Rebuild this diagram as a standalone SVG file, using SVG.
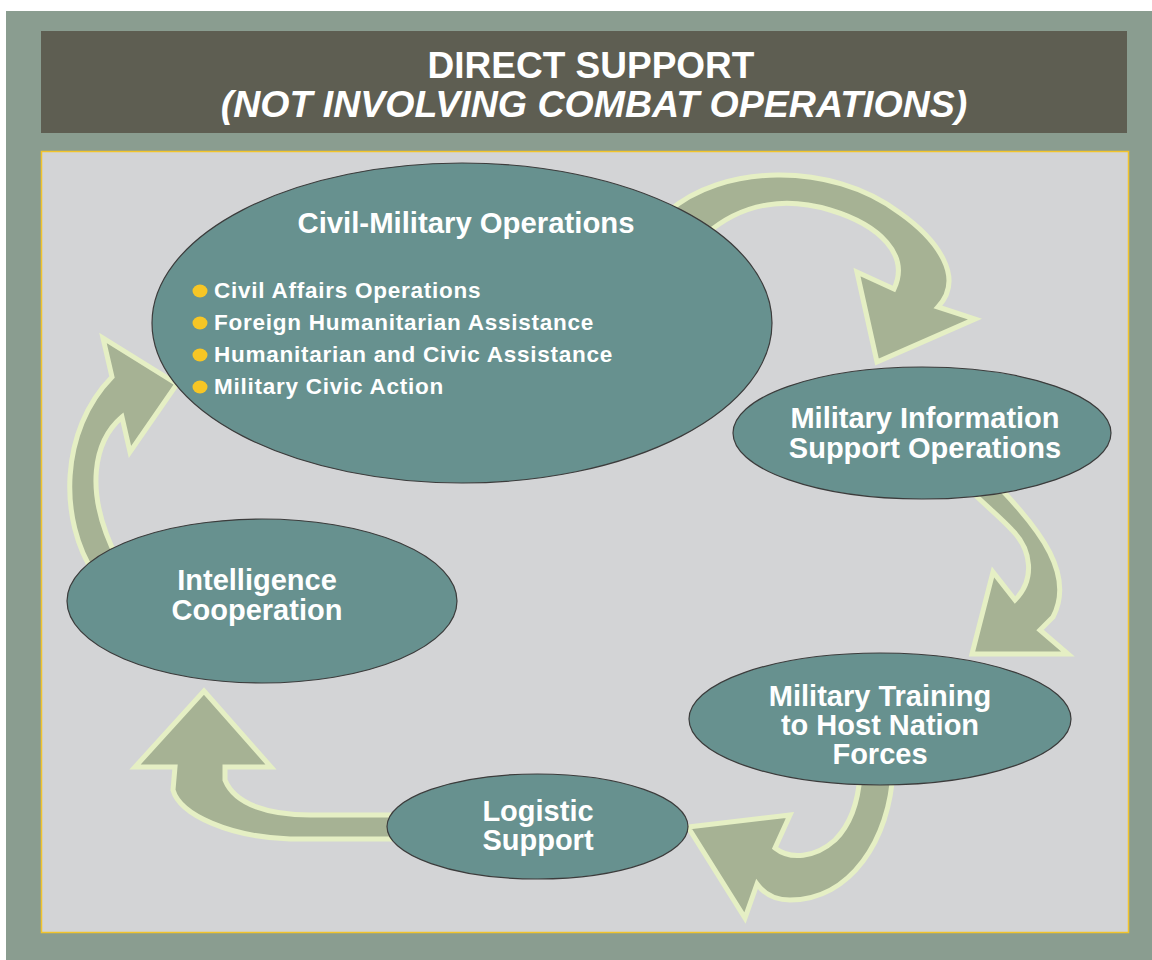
<svg xmlns="http://www.w3.org/2000/svg" width="1152" height="960" viewBox="0 0 1152 960">
<style>
.t{font-family:"Liberation Sans",Arial,sans-serif;font-weight:bold;fill:#ffffff;text-anchor:middle}
.n{font-size:29px}
.b{font-family:"Liberation Sans",Arial,sans-serif;font-weight:bold;fill:#ffffff;font-size:22.5px;letter-spacing:0.75px}
.node{fill:#67918f;stroke:#3c3c3c;stroke-width:1.2}
.arr{fill:#a6b294;stroke:#e5efc4;stroke-width:5;stroke-linejoin:miter}
.dot{fill:#f7c625}
</style>
<rect x="0" y="0" width="1152" height="960" fill="#ffffff"/>
<rect x="6" y="11" width="1146" height="949" fill="#8a9d90"/>
<rect x="41" y="31" width="1086" height="102" fill="#5e5e52"/>
<rect x="41.5" y="151.5" width="1087" height="781" fill="#d3d4d6" stroke="#f2c42b" stroke-width="1.5"/>
<g id="title">
<text class="t" x="591" y="78" font-size="37">DIRECT SUPPORT</text>
<text class="t" x="594" y="117" font-size="37.5" font-style="italic">(NOT INVOLVING COMBAT OPERATIONS)</text>
</g>
<g id="connectors">
<path class="arr" d="M668,212 C720,165 830,160 900,213 C938,240 965,278 938,307 L975,319 L877,362 L857,272 L894,289 C910,255 880,225 830,210 C790,198 745,200 705,235 Z"/>
<path class="arr" d="M1000,488 C1040,530 1075,575 1053,617 L1040,630 L1068,654 L972,654 L993,572 L1015,600 C1035,580 1032,550 1012,530 C1000,517 985,505 970,490 Z"/>
<path class="arr" d="M893,770 C890,840 850,900 790,900 C775,900 765,895 757,884 L745,918 L688,827 L790,815 L775,848 C790,860 815,858 835,840 C850,825 858,805 860,775 Z"/>
<path class="arr" d="M400,839 L290,839 C230,837 180,815 173,790 L175,767 L135,767 L204,691 L271,767 L225,767 L225,780 C235,805 270,815 310,815 L400,815 Z"/>
<path class="arr" d="M95,575 C58,520 60,430 112,377 L103,338 L177,384 L130,452 L122,417 C95,440 82,490 118,560 Z"/>
</g>
<g id="cmo">
<ellipse class="node" cx="462" cy="323" rx="310" ry="160"/>
<text class="t" x="466" y="233" font-size="29.3">Civil-Military Operations</text>
<ellipse class="dot" cx="200" cy="291" rx="7.5" ry="6.5"/>
<ellipse class="dot" cx="200" cy="323" rx="7.5" ry="6.5"/>
<ellipse class="dot" cx="200" cy="355" rx="7.5" ry="6.5"/>
<ellipse class="dot" cx="200" cy="387" rx="7.5" ry="6.5"/>
<text class="b" x="214" y="298">Civil Affairs Operations</text>
<text class="b" x="214" y="330">Foreign Humanitarian Assistance</text>
<text class="b" x="214" y="362">Humanitarian and Civic Assistance</text>
<text class="b" x="214" y="394">Military Civic Action</text>
</g>
<g id="miso">
<ellipse class="node" cx="922" cy="433" rx="189" ry="66"/>
<text class="t n" x="925" y="428">Military Information</text>
<text class="t n" x="925" y="458">Support Operations</text>
</g>
<g id="training">
<ellipse class="node" cx="880" cy="719" rx="191" ry="66"/>
<text class="t n" x="880" y="706">Military Training</text>
<text class="t n" x="880" y="735">to Host Nation</text>
<text class="t n" x="880" y="764">Forces</text>
</g>
<g id="logistic">
<ellipse class="node" cx="537.5" cy="826.5" rx="150.5" ry="52.5"/>
<text class="t n" x="538" y="821">Logistic</text>
<text class="t n" x="538" y="850">Support</text>
</g>
<g id="intelligence">
<ellipse class="node" cx="262" cy="601" rx="195" ry="82"/>
<text class="t n" x="257" y="590">Intelligence</text>
<text class="t n" x="257" y="620">Cooperation</text>
</g>
</svg>
